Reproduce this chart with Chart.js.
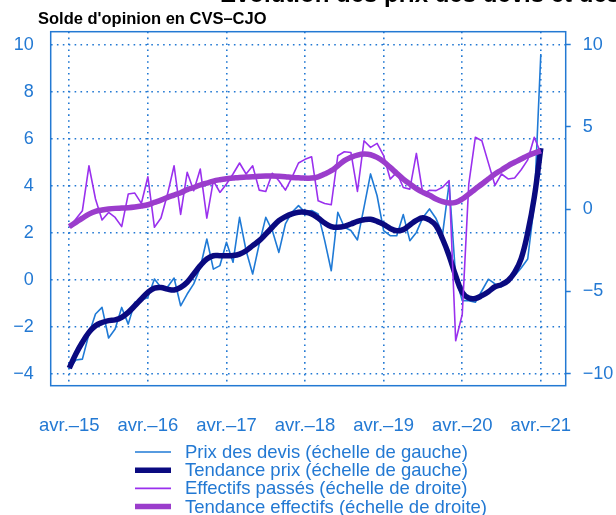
<!DOCTYPE html>
<html>
<head>
<meta charset="utf-8">
<script src="https://cdn.jsdelivr.net/npm/chart.js@4"></script>
<style>
  html, body { margin: 0; padding: 0; background: #fff; }
  #wrap { position: relative; width: 616px; height: 515px; overflow: hidden; }
</style>
</head>
<body>
<div id="wrap"><canvas id="chart" width="616" height="515"></canvas></div>
<script>
// monthly data, avr. 2015 -> avr. 2021 (index 0 = avr.-15)
const xTickMonths = [0, 12, 24, 36, 48, 60, 72];
const xTickLabels = ['avr.\u201315', 'avr.\u201316', 'avr.\u201317', 'avr.\u201318', 'avr.\u201319', 'avr.\u201320', 'avr.\u201321'];
const leftTicks = [-4, -2, 0, 2, 4, 6, 8, 10];
const rightTicks = [-10, -5, 0, 5, 10];

// left scale
const prixDevis = [
  -3.80, -3.42, -3.38, -2.31, -1.46, -1.18, -2.48, -2.10, -1.18, -1.89, -0.96, -0.89,
  -0.75, 0.03, -0.33, -0.31, 0.07, -1.11, -0.61, -0.18, 0.52, 1.73, 0.45, 0.60,
  1.59, 0.74, 2.65, 1.23, 0.24, 1.52, 2.65, 2.09, 1.16, 2.37, 2.87, 3.15,
  2.87, 2.94, 2.80, 1.66, 0.38, 2.87, 2.23, 2.09, 1.69, 3.08, 4.50, 3.57,
  2.09, 1.87, 1.87, 2.77, 1.66, 2.01, 2.65, 3.01, 2.60, 1.94, 4.10, 0.10,
  -0.89, -0.89, -0.96, -0.47, 0.02, -0.18, -0.30, -0.04, 0.17, 0.50, 0.88, 3.20,
  9.60
];
const tendancePrix = [
  -3.76, -3.16, -2.66, -2.24, -1.96, -1.82, -1.74, -1.71, -1.60, -1.39, -1.11, -0.82,
  -0.54, -0.36, -0.33, -0.40, -0.44, -0.33, -0.11, 0.24, 0.60, 0.88, 1.02, 1.02,
  1.02, 1.03, 1.09, 1.23, 1.45, 1.66, 1.94, 2.23, 2.51, 2.68, 2.80, 2.87,
  2.87, 2.80, 2.62, 2.41, 2.26, 2.23, 2.27, 2.37, 2.48, 2.55, 2.57, 2.48,
  2.35, 2.18, 2.08, 2.13, 2.33, 2.52, 2.64, 2.54, 2.30, 1.73, 1.02, 0.17,
  -0.54, -0.78, -0.80, -0.68, -0.51, -0.30, -0.21, -0.04, 0.31, 0.90, 2.00, 3.50,
  5.60
];
// right scale
const effectifs = [
  -1.10, -0.60, -0.09, 2.64, 0.62, -0.66, -0.20, -0.50, -1.06, 0.92, 0.98, 0.35,
  1.97, -1.10, -0.54, 0.92, 2.64, -0.32, 2.24, 1.12, 2.44, -0.54, 1.73, 1.02,
  1.53, 2.14, 2.81, 2.14, 2.64, 1.16, 1.08, 2.18, 1.73, 1.16, 1.93, 2.81,
  3.03, 3.19, 0.51, 0.35, 0.27, 3.25, 3.49, 3.45, 1.08, 4.16, 3.76, 4.00,
  3.25, 1.83, 2.24, 1.32, 1.22, 3.39, 0.90, 1.15, 1.13, 1.33, 1.74, -8.00,
  -6.40, 1.53, 4.37, 4.16, 2.80, 1.45, 2.14, 1.84, 1.90, 2.40, 3.00, 4.37,
  3.40
];
const tendanceEffectifs = [
  -1.06, -0.80, -0.54, -0.30, -0.13, -0.05, 0.01, 0.05, 0.07, 0.09, 0.13, 0.19,
  0.27, 0.41, 0.55, 0.72, 0.86, 1.00, 1.19, 1.32, 1.47, 1.59, 1.71, 1.79,
  1.85, 1.89, 1.93, 1.95, 1.97, 2.00, 2.02, 2.02, 2.00, 1.97, 1.93, 1.91,
  1.89, 1.89, 1.97, 2.14, 2.34, 2.64, 2.95, 3.15, 3.29, 3.35, 3.31, 3.15,
  2.89, 2.54, 2.18, 1.83, 1.53, 1.25, 1.02, 0.85, 0.62, 0.46, 0.38, 0.42,
  0.62, 0.92, 1.23, 1.53, 1.84, 2.14, 2.38, 2.64, 2.85, 3.05, 3.25, 3.41,
  3.55
];

const axisBlue = '#2379d3';
const fontFam = '"Liberation Sans", Arial, Helvetica, sans-serif';
const toXY = arr => arr.map((v, i) => ({ x: i, y: v }));
const minusSign = v => String(v).replace('-', '\u2212');

// frame, titles (main one is cropped at the top edge) and the legend column
const decorPlugin = {
  id: 'decor',
  beforeDatasetsDraw(chart) {
    const { ctx, chartArea: a } = chart;
    ctx.save();
    ctx.strokeStyle = axisBlue;
    ctx.lineWidth = 1.5;
    ctx.strokeRect(a.left, a.top, a.right - a.left, a.bottom - a.top);
    ctx.restore();
  },
  afterDraw(chart) {
    const ctx = chart.ctx;
    ctx.save();
    ctx.fillStyle = '#000';
    ctx.textAlign = 'left';
    ctx.textBaseline = 'alphabetic';
    ctx.font = 'bold 24px ' + fontFam;
    ctx.fillText('\u00c9volution des prix des devis et des effectifs', 220, 1.5);
    ctx.font = 'bold 16.5px ' + fontFam;
    ctx.fillText("Solde d'opinion en CVS\u2013CJO", 38, 24);

    ctx.font = '18.5px ' + fontFam;
    ctx.textBaseline = 'middle';
    chart.data.datasets.forEach((ds, i) => {
      const y = 452 + i * 18.2;
      ctx.strokeStyle = ds.borderColor;
      ctx.lineWidth = ds.borderWidth;
      ctx.beginPath();
      ctx.moveTo(135, y);
      ctx.lineTo(171, y);
      ctx.stroke();
      ctx.fillStyle = axisBlue;
      ctx.fillText(ds.label, 185, y + 1);
    });
    ctx.restore();
  }
};

new Chart(document.getElementById('chart'), {
  type: 'line',
  data: {
    datasets: [
      { label: 'Prix des devis (\u00e9chelle de gauche)', data: toXY(prixDevis), yAxisID: 'yL',
        borderColor: '#1f7ad6', borderWidth: 1.6, tension: 0, order: 4 },
      { label: 'Tendance prix (\u00e9chelle de gauche)', data: toXY(tendancePrix), yAxisID: 'yL',
        borderColor: '#0a0a80', borderWidth: 5.5, tension: 0.4, order: 3 },
      { label: 'Effectifs pass\u00e9s (\u00e9chelle de droite)', data: toXY(effectifs), yAxisID: 'yR',
        borderColor: '#9a30ee', borderWidth: 1.6, tension: 0, order: 2 },
      { label: 'Tendance effectifs (\u00e9chelle de droite)', data: toXY(tendanceEffectifs), yAxisID: 'yR',
        borderColor: '#9b3dcc', borderWidth: 5.5, tension: 0.4, order: 1 }
    ]
  },
  options: {
    responsive: false,
    animation: false,
    devicePixelRatio: 1,
    layout: { padding: { left: 0, right: 0, top: 31.7, bottom: 0 } },
    elements: { point: { radius: 0 }, line: { borderCapStyle: 'butt', borderJoinStyle: 'round' } },
    plugins: { legend: { display: false }, tooltip: { enabled: false }, title: { display: false } },
    scales: {
      x: {
        type: 'linear',
        min: -2.84,
        max: 75.8,
        afterBuildTicks: s => { s.ticks = xTickMonths.map(v => ({ value: v })); },
        afterFit: s => { s.height = 515 - 385.7; },
        grid: { color: axisBlue, lineWidth: 1.6, drawTicks: false },
        border: { display: false, dash: [1.6, 4.3] },
        ticks: {
          padding: 29,
          autoSkip: false,
          maxRotation: 0,
          color: axisBlue,
          font: { family: fontFam, size: 18.5 },
          callback: v => xTickLabels[xTickMonths.indexOf(v)]
        }
      },
      yL: {
        position: 'left',
        min: -4.51,
        max: 10.55,
        afterBuildTicks: s => { s.ticks = leftTicks.map(v => ({ value: v })); },
        afterFit: s => { s.width = 50.7; },
        grid: { color: axisBlue, lineWidth: 1.6, drawTicks: false },
        border: { display: false, dash: [1.6, 4.3] },
        ticks: { padding: 17, color: axisBlue, font: { family: fontFam, size: 18 }, callback: minusSign }
      },
      yR: {
        position: 'right',
        min: -10.73,
        max: 10.79,
        afterBuildTicks: s => { s.ticks = rightTicks.map(v => ({ value: v })); },
        afterFit: s => { s.width = 50.3; },
        grid: { drawOnChartArea: false, drawTicks: true, tickLength: 5, tickColor: axisBlue, tickWidth: 1.5 },
        border: { display: false },
        ticks: { padding: 12, color: axisBlue, font: { family: fontFam, size: 18 }, callback: minusSign }
      }
    }
  },
  plugins: [decorPlugin]
});
</script>
</body>
</html>
